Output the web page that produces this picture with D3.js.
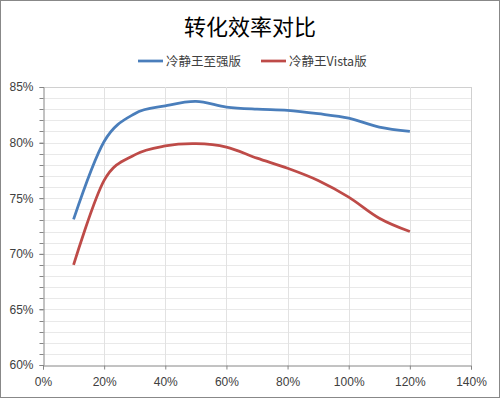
<!DOCTYPE html>
<meta charset="utf-8">
<style>
  body { margin: 0; }
  svg { display: block; font-family: "Noto Sans CJK SC", "DejaVu Sans", sans-serif; }
  .tick text { font-family: "Liberation Sans", "Noto Sans CJK SC", sans-serif; }
</style>
<body>
<script src="https://cdn.jsdelivr.net/npm/d3@7"></script>
<script>
  var width = 500,
    height = 398;

  // load (fraction of rated) and efficiency readings
  var loads = [0.10, 0.20, 0.30, 0.40, 0.50, 0.60, 0.70, 0.80, 0.90, 1.00, 1.10, 1.20];
  var zhiqiang = [0.731, 0.801, 0.826, 0.833, 0.837, 0.832, 0.830, 0.829, 0.826, 0.822, 0.814, 0.810];
  var vista = [0.690, 0.766, 0.789, 0.797, 0.799, 0.796, 0.786, 0.777, 0.766, 0.751, 0.732, 0.720];
  var seriesNames = ["冷静王至强版", "冷静王Vista版"];
  var colors = ["#4a7ebb", "#be4b48"];
  var xTicks = [0, 0.2, 0.4, 0.6, 0.8, 1.0, 1.2, 1.4];
  var yTicks = [0.60, 0.65, 0.70, 0.75, 0.80, 0.85];

  var margin = {top: 87, right: 29, bottom: 33, left: 43};

  var svg = d3.select("body").append("svg")
    .attr("width", width)
    .attr("height", height)

  svg.append("rect")
    .attr("x", 0.5).attr("y", 0.5)
    .attr("width", width - 1).attr("height", height - 1)
    .attr("fill", "white")
    .attr("stroke", "#888")

  var x = d3.scaleLinear().domain([0, 1.4]).range([margin.left, width - margin.right])
  var y = d3.scaleLinear().domain([0.60, 0.85]).range([height - margin.bottom, margin.top])

  var fmt = d3.format(".0%")

  /* grid: minor horizontal every 1%, vertical at each x tick */
  svg.append("g")
    .selectAll("line")
    .data(d3.range(61, 86).map(function(d) { return d / 100 }))
    .enter().append("line")
    .attr("x1", x(0)).attr("x2", x(1.4))
    .attr("y1", function(d) { return Math.round(y(d)) + 0.5 })
    .attr("y2", function(d) { return Math.round(y(d)) + 0.5 })
    .attr("stroke", function(d) { return Math.abs(d - 0.85) < 1e-6 ? "#d0d0d0" : "#e9e9e9" })

  svg.append("g")
    .selectAll("line")
    .data(xTicks.slice(1))
    .enter().append("line")
    .attr("x1", function(d) { return Math.round(x(d)) + 0.5 })
    .attr("x2", function(d) { return Math.round(x(d)) + 0.5 })
    .attr("y1", y(0.85)).attr("y2", y(0.60))
    .attr("stroke", function(d) { return d == 1.4 ? "#d0d0d0" : "#e2e2e2" })

  /* axes */
  var yAxis = svg.append("g")
    .attr("transform", "translate(" + (Math.round(x(0)) + 0.5) + ",0)")
    .call(d3.axisLeft(y).tickValues(yTicks).tickFormat(fmt).tickSize(4).tickPadding(6))
  yAxis.append("g")
    .selectAll("line")
    .data(d3.range(61, 85).map(function(d) { return d / 100 }))
    .enter().append("line")
    .attr("x1", -4).attr("x2", 0)
    .attr("y1", function(d) { return Math.round(y(d)) + 0.5 })
    .attr("y2", function(d) { return Math.round(y(d)) + 0.5 })

  var xAxis = svg.append("g")
    .attr("transform", "translate(0," + (Math.round(y(0.60)) + 0.5) + ")")
    .call(d3.axisBottom(x).tickValues(xTicks).tickFormat(fmt).tickSize(4).tickPadding(8))

  ;[yAxis, xAxis].forEach(function(ax) {
    ax.selectAll(".domain").attr("stroke", "#868686")
    ax.selectAll("line").attr("stroke", "#868686")
    ax.selectAll("text").attr("fill", "#404040").style("font-size", "12px")
  })

  /* lines, smoothed like the spreadsheet's "smooth line" */
  var line = d3.line()
    .x(function(d) { return x(d[0]) })
    .y(function(d) { return y(d[1]) })
    .curve(d3.curveCatmullRom.alpha(0))

  ;[zhiqiang, vista].forEach(function(vals, i) {
    svg.append("path")
      .datum(loads.map(function(l, j) { return [l, vals[j]] }))
      .attr("d", line)
      .attr("fill", "none")
      .attr("stroke", colors[i])
      .attr("stroke-width", 2.75)
  })

  /* title */
  svg.append("text")
    .attr("x", 250).attr("y", 35)
    .attr("text-anchor", "middle")
    .style("font-size", "22px")
    .attr("fill", "#000")
    .text("转化效率对比")

  /* legend */
  var legX = [138, 261]
  var leg = svg.selectAll("g.leg")
    .data(seriesNames)
    .enter().append("g")
    .attr("transform", function(d, i) { return "translate(" + legX[i] + ",61)" })
  leg.append("line")
    .attr("x1", 0).attr("x2", 25)
    .attr("stroke", function(d, i) { return colors[i] })
    .attr("stroke-width", 2.75)
  leg.append("text")
    .attr("x", 28).attr("y", 4.5)
    .style("font-size", "12.5px")
    .attr("fill", "#404040")
    .text(function(d) { return d })
</script>
</body>
